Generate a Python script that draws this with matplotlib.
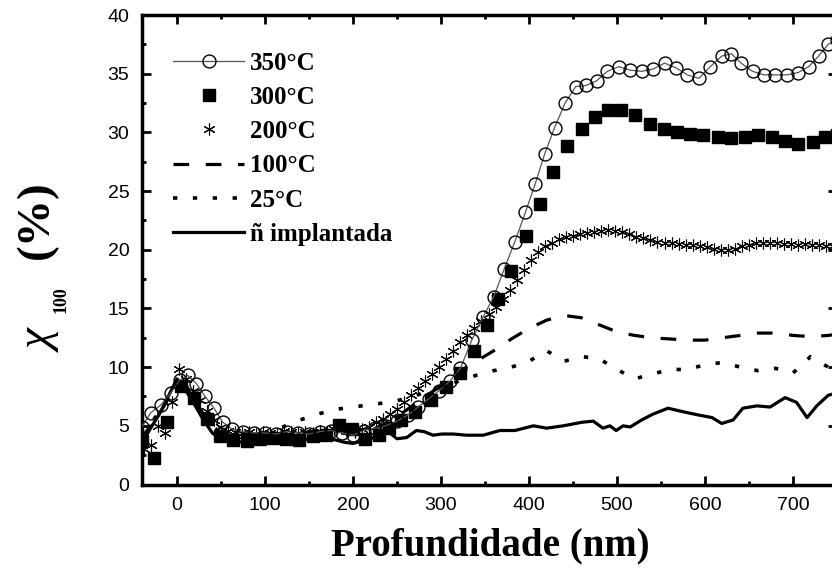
import numpy as np
import matplotlib
matplotlib.use("Agg")
import matplotlib.pyplot as plt
from matplotlib.ticker import MultipleLocator
from matplotlib.font_manager import FontProperties

# ---- data ------------------------------------------------------------------
x_350 = [-40, -30, -18, -7, 3, 12, 22, 32, 42, 52, 63, 75, 87, 100, 112, 125,
         137, 150, 162, 175, 187, 200, 212, 225, 237, 250, 262, 274, 286, 298,
         310, 322, 335, 348, 360, 372, 384, 396, 407, 418, 429, 441, 453, 465,
         477, 489, 502, 515, 528, 541, 554, 567, 580, 593, 606, 619, 630, 641,
         654, 667, 680, 693, 706, 718, 729, 740, 750]
y_350 = [4.9, 6.1, 6.8, 7.8, 8.9, 9.3, 8.6, 7.5, 6.5, 5.3, 4.7, 4.5, 4.4, 4.4,
         4.3, 4.5, 4.4, 4.3, 4.5, 4.6, 4.4, 4.2, 4.6, 4.8, 5.0, 5.4, 5.9, 6.6,
         7.3, 8.0, 8.8, 9.9, 12.3, 14.3, 16.0, 18.4, 20.7, 23.2, 25.6, 28.2,
         30.4, 32.5, 33.9, 34.0, 34.4, 35.2, 35.6, 35.3, 35.2, 35.4, 35.9, 35.5,
         34.9, 34.6, 35.6, 36.5, 36.7, 35.9, 35.2, 34.9, 34.9, 34.9, 35.1, 35.6,
         36.5, 37.5, 37.9]

x_300 = [-40, -26, -11, 4, 19, 34, 49, 64, 79, 94, 109, 124, 139, 154, 169,
         184, 199, 214, 229, 241, 255, 270, 289, 306, 322, 337, 352, 365, 380,
         397, 412, 427, 443, 460, 475, 490, 505, 520, 538, 553, 568, 583, 598,
         615, 630, 645, 660, 676, 691, 706, 723, 736, 750]
y_300 = [3.7, 2.3, 5.3, 8.4, 7.4, 5.6, 4.1, 3.8, 3.7, 3.9, 4.0, 3.9, 3.8, 4.1,
         4.2, 5.1, 4.7, 3.9, 4.2, 4.8, 5.5, 6.2, 7.2, 8.3, 9.5, 11.4, 13.6, 15.8,
         18.2, 21.2, 23.9, 26.6, 28.8, 30.3, 31.3, 31.9, 31.9, 31.5, 30.7, 30.3,
         30.0, 29.9, 29.8, 29.6, 29.5, 29.6, 29.8, 29.6, 29.3, 29.0, 29.2, 29.6,
         29.8]

x_200 = [-38, -30, -22, -14, -6, 2, 10, 18, 26, 34, 42, 50, 58, 66, 74, 82, 90,
         98, 106, 114, 122, 130, 138, 146, 154, 162, 170, 178, 186, 194, 202,
         210, 218, 226, 234, 242, 250, 258, 266, 274, 282, 290, 298, 306, 314,
         322, 330, 338, 346, 354, 362, 370, 378, 386, 394, 402, 410, 418, 426,
         434, 442, 450, 458, 466, 474, 482, 490, 498, 506, 514, 522, 530, 538,
         546, 554, 562, 570, 578, 586, 594, 602, 610, 618, 626, 634, 642, 650,
         658, 666, 674, 682, 690, 698, 706, 714, 722, 730, 738, 746]
y_200 = [3.0, 3.4, 5.0, 4.4, 7.0, 9.8, 9.0, 8.0, 7.2, 6.3, 5.5, 4.9, 4.6, 4.5,
         4.4, 4.5, 4.3, 4.5, 4.4, 4.3, 4.6, 4.5, 4.4, 4.5, 4.4, 4.6, 4.5, 4.7,
         4.8, 4.6, 4.5, 4.7, 4.9, 5.3, 5.6, 6.0, 6.4, 7.0, 7.6, 8.2, 8.8, 9.4,
         10.0, 10.7, 11.4, 12.1, 12.7, 13.3, 13.9, 14.5, 15.1, 15.8, 16.6, 17.4,
         18.3, 19.1, 19.8, 20.3, 20.6, 20.9, 21.1, 21.2, 21.3, 21.4, 21.5, 21.6,
         21.7, 21.6, 21.5, 21.3, 21.1, 21.0, 20.8, 20.7, 20.6, 20.6, 20.5, 20.4,
         20.4, 20.3, 20.2, 20.1, 20.0, 20.0, 20.1, 20.3, 20.4, 20.6, 20.6, 20.6,
         20.6, 20.5, 20.5, 20.4, 20.5, 20.4, 20.4, 20.3, 20.3]

x_100 = [-40, -30, -20, -10, 0, 10, 20, 30, 40, 50, 60, 80, 100, 120, 140, 160,
         180, 200, 220, 240, 260, 280, 300, 320, 340, 360, 380, 400, 420, 440,
         460, 480, 500, 520, 540, 560, 580, 600, 620, 640, 660, 680, 700, 720,
         740, 750]
y_100 = [4.0, 5.0, 6.0, 7.3, 8.8, 8.5, 7.2, 6.0, 5.0, 4.4, 4.2, 4.2, 4.3, 4.2,
         4.3, 4.4, 4.4, 4.3, 4.6, 5.3, 6.3, 7.4, 8.4, 9.6, 10.5, 11.4, 12.4,
         13.3, 14.0, 14.4, 14.2, 13.6, 13.0, 12.7, 12.5, 12.4, 12.3, 12.3, 12.5,
         12.7, 12.9, 12.9, 12.7, 12.6, 12.7, 12.8]

x_25 = [-40, -30, -20, -10, 0, 10, 20, 30, 40, 50, 60, 80, 100, 120, 140, 160,
        180, 200, 220, 240, 260, 280, 300, 320, 340, 360, 380, 400, 420, 440,
        460, 480, 500, 520, 540, 560, 580, 600, 620, 640, 660, 680, 700, 720,
        740, 750]
y_25 = [4.2, 5.2, 6.2, 7.5, 8.9, 8.4, 7.0, 5.8, 4.9, 4.3, 4.2, 4.3, 4.4, 4.9,
        5.5, 6.0, 6.4, 6.6, 6.8, 7.0, 7.3, 7.8, 8.3, 8.8, 9.3, 9.7, 10.0, 10.5,
        11.4, 10.5, 10.9, 10.7, 9.8, 9.0, 9.4, 9.8, 9.8, 10.2, 10.4, 10.0, 9.7,
        9.9, 9.5, 10.9, 10.0, 9.9]

x_ni = [-40, -30, -20, -10, 0, 10, 20, 30, 40, 50, 60, 70, 80, 90, 100, 110,
        120, 130, 140, 150, 160, 170, 180, 190, 200, 210, 220, 230, 240, 250,
        261, 272, 281, 291, 301, 314, 329, 348, 367, 384, 405, 420, 439, 460,
        473, 484, 492, 499, 507, 515, 528, 541, 558, 575, 594, 608, 619, 632,
        643, 659, 674, 691, 704, 716, 727, 740, 750]
y_ni = [3.5, 4.8, 6.0, 7.5, 9.0, 8.0, 6.8, 5.5, 4.4, 3.8, 3.6, 3.6, 3.7, 3.7,
        3.8, 3.7, 3.8, 3.6, 3.8, 3.9, 3.8, 3.9, 3.8, 3.6, 3.5, 3.7, 3.9, 4.2,
        4.5, 3.9, 4.0, 4.6, 4.5, 4.2, 4.3, 4.3, 4.2, 4.2, 4.6, 4.6, 5.0, 4.8,
        5.0, 5.3, 5.4, 4.8, 5.0, 4.6, 5.0, 4.9, 5.5, 6.0, 6.5, 6.2, 5.9, 5.7,
        5.2, 5.5, 6.5, 6.7, 6.6, 7.4, 7.0, 5.7, 6.7, 7.6, 7.8]

labels = ["350°C", "300°C", "200°C", "100°C", "25°C", "ñ implantada"]

# ---- figure ---------------------------------------------------------------
W, H = 832, 573
fig = plt.figure(figsize=(W / 100, H / 100), dpi=100)
ax = fig.add_axes([141.8 / W, 1 - 484.5 / H, 695.2 / W, 469.5 / H])

ax.plot(x_ni, y_ni, color="black", lw=2.3, label=labels[5], zorder=2)
ax.plot(x_25, y_25, color="black", lw=2.6, dashes=(1.2, 4.3),
        dash_capstyle="butt", label=labels[4], zorder=2)
ax.plot(x_100, y_100, color="black", lw=2.3, dashes=(4.9, 5.2),
        dash_capstyle="butt", label=labels[3], zorder=2)
ax.plot(x_200, y_200, ls="none", marker=(6, 2, 0), ms=8.5, mew=0.8,
        color="black", label=labels[2], zorder=3)
ax.plot(x_300, y_300, ls="none", marker="s", ms=9.2, color="black",
        label=labels[1], zorder=4)
ax.plot(x_350, y_350, color="#555555", lw=0.9, marker="o", ms=9.3, mfc="none",
        mec="black", mew=1.0, label=labels[0], zorder=5)

ax.set_xlim(-40, 750)
ax.set_ylim(0, 40)
ax.xaxis.set_major_locator(MultipleLocator(100))
ax.xaxis.set_minor_locator(MultipleLocator(50))
ax.yaxis.set_major_locator(MultipleLocator(5))
ax.yaxis.set_minor_locator(MultipleLocator(2.5))
ax.tick_params(which="both", direction="in", top=True, right=True, width=2)
ax.tick_params(which="major", length=6.5)
ax.tick_params(which="minor", length=3)
ax.tick_params(axis="x", which="major", pad=9)
ax.tick_params(axis="y", which="major", pad=9)
for s in ax.spines.values():
    s.set_linewidth(2.5)
for t in ax.get_xticklabels() + ax.get_yticklabels():
    t.set_fontfamily("Liberation Sans")
    t.set_fontsize(14)

handles, labs = ax.get_legend_handles_labels()
order = [5, 4, 3, 2, 1, 0]
ax.legend([handles[i] for i in order], [labs[i] for i in order],
          loc="upper left", bbox_to_anchor=(0.045, 0.922), frameon=False,
          borderaxespad=0, borderpad=0, handlelength=2.85, handletextpad=0.24,
          labelspacing=0.45,
          prop=FontProperties(family="Liberation Serif", weight="bold", size=18))

# axis titles
fig.text(490 / W, 1 - 546 / H, "Profundidade (nm)", ha="center", va="center",
         fontfamily="Liberation Serif", fontweight="bold", fontsize=28)
fig.text(42 / W, 1 - 342 / H, "χ", ha="center", va="center", rotation=90,
         fontfamily="Liberation Serif", fontstyle="italic", fontsize=34)
fig.text(61 / W, 1 - 300 / H, "100", ha="center", va="center", rotation=90,
         fontfamily="Liberation Serif", fontweight="bold", fontsize=13)
fig.text(37 / W, 1 - 220 / H, "(%)", ha="center", va="center", rotation=90,
         fontfamily="Liberation Serif", fontweight="bold", fontsize=34)

fig.savefig("out.png", dpi=100)
